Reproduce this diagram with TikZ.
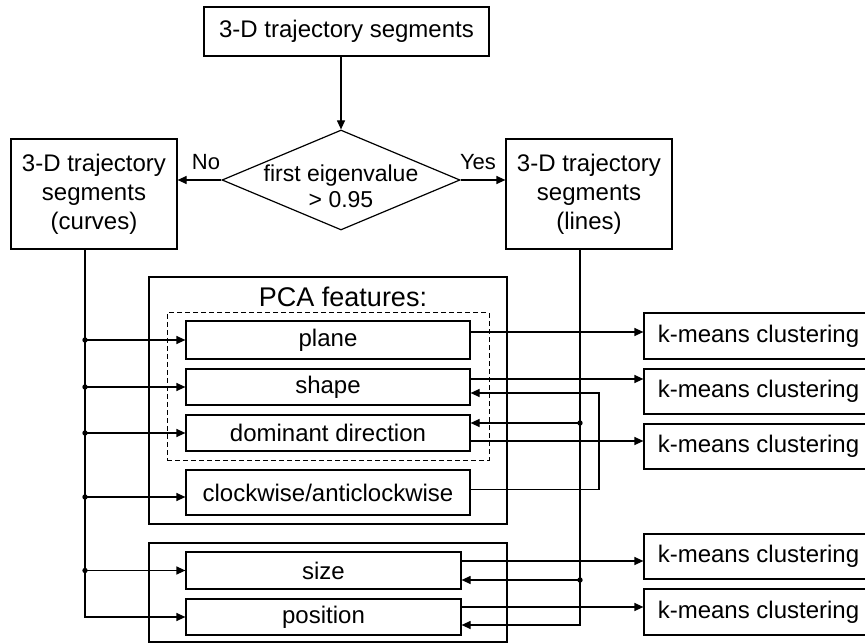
\documentclass[tikz,border=0pt]{standalone}
\usepackage{fontspec}
\setmainfont{Liberation Sans}
\usetikzlibrary{arrows.meta,shapes.geometric}
\begin{document}
\begin{tikzpicture}[x=1pt,y=-1pt,
  line width=1.2pt,
  every node/.style={inner sep=0pt, font=\fontsize{24}{29}\selectfont},
  box/.style={draw, rectangle, align=center},
  feat/.style={box, minimum width=284pt},
  kbox/.style={box, minimum width=229pt},
  arr/.style={-{Triangle[length=9pt,width=8pt]}},
  dotr/.style={fill}]

\useasboundingbox (0,0) rectangle (865,644);
\clip (0,0) rectangle (865,644);

% decision part
\node[box, minimum width=285pt, minimum height=49pt] (top) at (346.5,31.5) {3-D trajectory segments};
\node[draw, diamond, minimum width=238pt, minimum height=100pt] (dia) at (341,180) {};
\node[font=\fontsize{23}{26}\selectfont, align=center] (diat) at (341,186) {first eigenvalue\\> 0.95};
\node[font=\fontsize{22}{26}\selectfont] (no) at (206,162) {No};
\node[font=\fontsize{22}{26}\selectfont] (yes) at (478,162) {Yes};
\node[box, minimum width=166pt, minimum height=110pt] (curves) at (94,194) {3-D trajectory\\segments\\(curves)};
\node[box, minimum width=166pt, minimum height=110pt] (lines) at (589,194) {3-D trajectory\\segments\\(lines)};

\draw[arr] (top.south -| dia.north) -- (dia.north);
\draw[arr] (dia.west) -- (dia.west -| curves.east);
\draw[arr] (dia.east) -- (dia.east -| lines.west);

% PCA feature group
\node[draw, minimum width=358pt, minimum height=247pt] (pca) at (328,400.5) {};
\node[font=\fontsize{27}{30}\selectfont] (pcat) at (343,297) {PCA features:};
\node[draw, dashed, dash pattern=on 5pt off 3pt, line width=1pt, minimum width=322pt, minimum height=147pt] (dash) at (328,386.5) {};
\node[feat, minimum height=38pt] (plane) at (328,340) {plane};
\node[feat, minimum height=36pt] (shape) at (328,387) {shape};
\node[feat, minimum height=36pt] (dom) at (328,433) {dominant direction};
\node[feat, minimum height=45pt] (clk) at (328,492.5) {clockwise/anticlockwise};

% size and position group
\node[draw, minimum width=358pt, minimum height=99pt] (low) at (328,592.5) {};
\node[box, minimum width=275pt, minimum height=37pt] (size) at (323.5,570.5) {size};
\node[box, minimum width=275pt, minimum height=36pt] (pos) at (323.5,617) {position};

% clustering blocks
\node[kbox, minimum height=46pt] (k1) at (758.5,336) {k-means clustering};
\node[kbox, minimum height=45pt] (k2) at (758.5,391.5) {k-means clustering};
\node[kbox, minimum height=45pt] (k3) at (758.5,446.5) {k-means clustering};
\node[kbox, minimum height=45pt] (k4) at (758.5,556.5) {k-means clustering};
\node[kbox, minimum height=46pt] (k5) at (758.5,612) {k-means clustering};

% bus lines
\coordinate (lbus) at (85,0);
\coordinate (rbus) at (580,0);
\coordinate (loop) at (599,0);

% curves feed every feature
\draw[arr] (curves.south -| lbus) |- (pos.west);
\coordinate (clkin) at ([yshift=-4.5pt]clk.west);
\foreach \t in {plane,shape,dom,size}{
  \draw[arr] (lbus |- \t.west) -- (\t.west);
  \fill (lbus |- \t.west) circle (2.7pt);
}
\draw[arr] (lbus |- clkin) -- (clkin);
\fill (lbus |- clkin) circle (2.7pt);

% lines feed direction, size and position
\coordinate (domin) at ([yshift=10pt]dom.east);
\coordinate (sizein) at ([yshift=-9.5pt]size.east);
\coordinate (posin) at ([yshift=-8pt]pos.east);
\draw[arr] (lines.south -| rbus) |- (posin);
\draw[arr] (rbus |- domin) -- (domin);
\draw[arr] (rbus |- sizein) -- (sizein);
\fill (rbus |- domin) circle (2.7pt);
\fill (rbus |- sizein) circle (2.7pt);

% rotation sense refines the shape
\coordinate (shin) at ([yshift=-6pt]shape.east);
\draw[arr] ([yshift=3pt]clk.east) -| (loop |- shin) -- (shin);

% outputs to clustering
\draw[arr] ([yshift=8pt]plane.east) -- ([yshift=8pt]plane.east -| k1.west);
\draw[arr] ([yshift=8pt]shape.east) -- ([yshift=8pt]shape.east -| k2.west);
\draw[arr] ([yshift=-8pt]dom.east) -- ([yshift=-8pt]dom.east -| k3.west);
\draw[arr] ([yshift=9.5pt]size.east) -- ([yshift=9.5pt]size.east -| k4.west);
\draw[arr] ([yshift=10pt]pos.east) -- ([yshift=10pt]pos.east -| k5.west);
\end{tikzpicture}
\end{document}
